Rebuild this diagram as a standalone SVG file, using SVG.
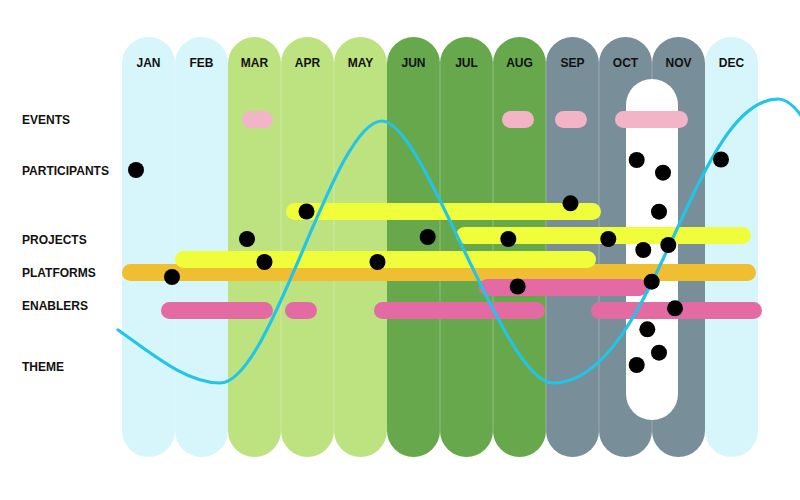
<svg xmlns="http://www.w3.org/2000/svg" width="800" height="500" viewBox="0 0 800 500">
<style>
.lbl{font-family:"Liberation Sans",Arial,Helvetica,sans-serif;font-weight:bold;font-size:12px;fill:#111}
.mon{font-family:"Liberation Sans",Arial,Helvetica,sans-serif;font-weight:bold;font-size:12px;fill:#111;text-anchor:middle}
.c1{fill:#d6f6fb}.c2{fill:#bde280}.c3{fill:#68a84d}.c4{fill:#788e99}
.sep{stroke:#ffffff;stroke-opacity:0.28;stroke-width:1}
.ev{fill:#f2b4c6}.en{fill:#e46aa4}.pr{fill:#effd3b}.pl{fill:#f0bf31}
.dot{fill:#000}
.curve{fill:none;stroke:#22c4e8;stroke-width:3.2;stroke-linecap:round}
</style>
<rect width="800" height="500" fill="#ffffff"/>
<g id="columns">
<g id="col-jan"><rect class="c1" x="122" y="37" width="53" height="420" rx="26.5"/><text class="mon" x="148.5" y="66.5">JAN</text></g>
<g id="col-feb"><rect class="c1" x="175" y="37" width="53" height="420" rx="26.5"/><text class="mon" x="201.5" y="66.5">FEB</text></g>
<g id="col-mar"><rect class="c2" x="228" y="37" width="53" height="420" rx="26.5"/><text class="mon" x="254.5" y="66.5">MAR</text></g>
<g id="col-apr"><rect class="c2" x="281" y="37" width="53" height="420" rx="26.5"/><text class="mon" x="307.5" y="66.5">APR</text></g>
<g id="col-may"><rect class="c2" x="334" y="37" width="53" height="420" rx="26.5"/><text class="mon" x="360.5" y="66.5">MAY</text></g>
<g id="col-jun"><rect class="c3" x="387" y="37" width="53" height="420" rx="26.5"/><text class="mon" x="413.5" y="66.5">JUN</text></g>
<g id="col-jul"><rect class="c3" x="440" y="37" width="53" height="420" rx="26.5"/><text class="mon" x="466.5" y="66.5">JUL</text></g>
<g id="col-aug"><rect class="c3" x="493" y="37" width="53" height="420" rx="26.5"/><text class="mon" x="519.5" y="66.5">AUG</text></g>
<g id="col-sep"><rect class="c4" x="546" y="37" width="53" height="420" rx="26.5"/><text class="mon" x="572.5" y="66.5">SEP</text></g>
<g id="col-oct"><rect class="c4" x="599" y="37" width="53" height="420" rx="26.5"/><text class="mon" x="625.5" y="66.5">OCT</text></g>
<g id="col-nov"><rect class="c4" x="652" y="37" width="53" height="420" rx="26.5"/><text class="mon" x="678.5" y="66.5">NOV</text></g>
<g id="col-dec"><rect class="c1" x="705" y="37" width="53" height="420" rx="26.5"/><text class="mon" x="731.5" y="66.5">DEC</text></g>
<g id="separators">
<line class="sep" x1="175" y1="63" x2="175" y2="431"/>
<line class="sep" x1="281" y1="63" x2="281" y2="431"/>
<line class="sep" x1="334" y1="63" x2="334" y2="431"/>
<line class="sep" x1="440" y1="63" x2="440" y2="431"/>
<line class="sep" x1="493" y1="63" x2="493" y2="431"/>
<line class="sep" x1="546" y1="63" x2="546" y2="431"/>
<line class="sep" x1="599" y1="63" x2="599" y2="431"/>
<line class="sep" x1="652" y1="63" x2="652" y2="431"/>
</g>
</g>
<g id="highlight"><rect x="626" y="79" width="52" height="341" rx="26" fill="#ffffff"/></g>
<g id="row-labels">
<text class="lbl" x="22" y="124">EVENTS</text>
<text class="lbl" x="22" y="174.5">PARTICIPANTS</text>
<text class="lbl" x="22" y="243.5">PROJECTS</text>
<text class="lbl" x="22" y="277">PLATFORMS</text>
<text class="lbl" x="22" y="310">ENABLERS</text>
<text class="lbl" x="22" y="370.5">THEME</text>
</g>
<g id="events">
<rect class="ev" x="242" y="111" width="31" height="17" rx="8.5"/>
<rect class="ev" x="502" y="111" width="32" height="17" rx="8.5"/>
<rect class="ev" x="555" y="111" width="32" height="17" rx="8.5"/>
<rect class="ev" x="615" y="111" width="73" height="17" rx="8.5"/>
</g>
<g id="enablers">
<rect class="en" x="161" y="302" width="112" height="17" rx="8.5"/>
<rect class="en" x="285" y="302" width="32" height="17" rx="8.5"/>
<rect class="en" x="374" y="302" width="171" height="17" rx="8.5"/>
<rect class="en" x="591" y="302" width="171" height="17" rx="8.5"/>
</g>
<g id="platforms">
<rect class="pl" x="122" y="264" width="634" height="17" rx="8.5"/>
<rect class="en" x="479" y="279" width="169" height="17" rx="8.5"/>
</g>
<g id="projects">
<rect class="pr" x="286" y="203" width="315" height="17" rx="8.5"/>
<rect class="pr" x="456" y="227" width="295" height="17" rx="8.5"/>
<rect class="pr" x="175" y="251" width="421" height="17" rx="8.5"/>
</g>
<g id="connectors">
<path class="curve" d="M118,330 C150,352 185,383 220,383 C272,383 333,121 382,121 C425,121 503,383 553,383 C655,383 692,99 778,99 C832,99 874,383 928,383"/>
</g>
<g id="dots">
<circle class="dot" cx="136" cy="170" r="8"/>
<circle class="dot" cx="172" cy="277" r="8"/>
<circle class="dot" cx="247" cy="239" r="8"/>
<circle class="dot" cx="264.5" cy="262" r="8"/>
<circle class="dot" cx="306.5" cy="211.5" r="8"/>
<circle class="dot" cx="377.5" cy="262" r="8"/>
<circle class="dot" cx="427.7" cy="237" r="8"/>
<circle class="dot" cx="508.3" cy="239" r="8"/>
<circle class="dot" cx="517.7" cy="286.5" r="8"/>
<circle class="dot" cx="570.5" cy="203.3" r="8"/>
<circle class="dot" cx="608.3" cy="239" r="8"/>
<circle class="dot" cx="636.7" cy="160" r="8"/>
<circle class="dot" cx="663" cy="172.7" r="8"/>
<circle class="dot" cx="659" cy="211.7" r="8"/>
<circle class="dot" cx="643.3" cy="250" r="8"/>
<circle class="dot" cx="668.3" cy="245" r="8"/>
<circle class="dot" cx="721" cy="159.5" r="8"/>
<circle class="dot" cx="651.7" cy="281.7" r="8"/>
<circle class="dot" cx="675" cy="308.3" r="8"/>
<circle class="dot" cx="647.3" cy="329.3" r="8"/>
<circle class="dot" cx="659" cy="352.7" r="8"/>
<circle class="dot" cx="636.7" cy="365" r="8"/>
</g>
</svg>
